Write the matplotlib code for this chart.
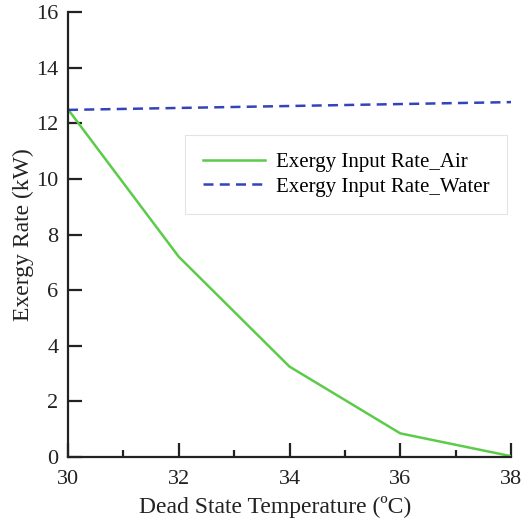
import matplotlib
matplotlib.use("Agg")
import matplotlib.pyplot as plt
from matplotlib.ticker import MultipleLocator

temps = [30, 32, 34, 36, 38]
air = [12.5, 7.2, 3.25, 0.85, 0.03]
water = [12.48, 12.55, 12.62, 12.69, 12.76]
labels = ["Exergy Input Rate_Air", "Exergy Input Rate_Water"]

plt.rcParams['font.family'] = ['Liberation Serif', 'DejaVu Serif']

fig = plt.figure(figsize=(5.30, 5.22), dpi=100)
ax = fig.add_axes([68/530, 1-457/522, (511-68)/530, (457-12)/522])

ax.plot(temps, air, color='#5ccb4a', lw=1.8, label=labels[0])
ax.plot(temps, water, color='#3344bb', lw=1.8, ls=(0, (4, 2.5)), label=labels[1])

ax.set_xlim(30, 38)
ax.set_ylim(0, 16)
ax.xaxis.set_major_locator(MultipleLocator(2))
ax.xaxis.set_minor_locator(MultipleLocator(1))
ax.yaxis.set_major_locator(MultipleLocator(2))
for s in ['top', 'right']:
    ax.spines[s].set_visible(False)
for s in ['left', 'bottom']:
    ax.spines[s].set_linewidth(1.6)
    ax.spines[s].set_color('#222222')
ax.tick_params(which='major', direction='in', length=10, width=1.6, labelsize=16, colors='#222222')
ax.tick_params(axis='x', which='major', pad=9)
ax.tick_params(axis='y', which='major', pad=7)
ax.tick_params(which='minor', direction='in', length=5, width=1.6, colors='#222222')
ax.set_xlabel("Dead State Temperature (ºC)", fontsize=17, color='#222222')
ax.set_ylabel("Exergy Rate (kW)", fontsize=17, color='#222222')
ax.xaxis.set_label_coords(0.468, -0.087, transform=ax.transAxes)
ax.yaxis.set_label_coords(-0.077, 0.5, transform=ax.transAxes)

leg = ax.legend(loc='upper left', bbox_to_anchor=(0.241, 0.748), fontsize=15, frameon=True,
                fancybox=False, edgecolor='#dddddd', handlelength=3.0, borderpad=0.85,
                labelspacing=0.25, handletextpad=0.5)
leg.get_frame().set_linewidth(0.8)

fig.savefig("out.png", dpi=100)
